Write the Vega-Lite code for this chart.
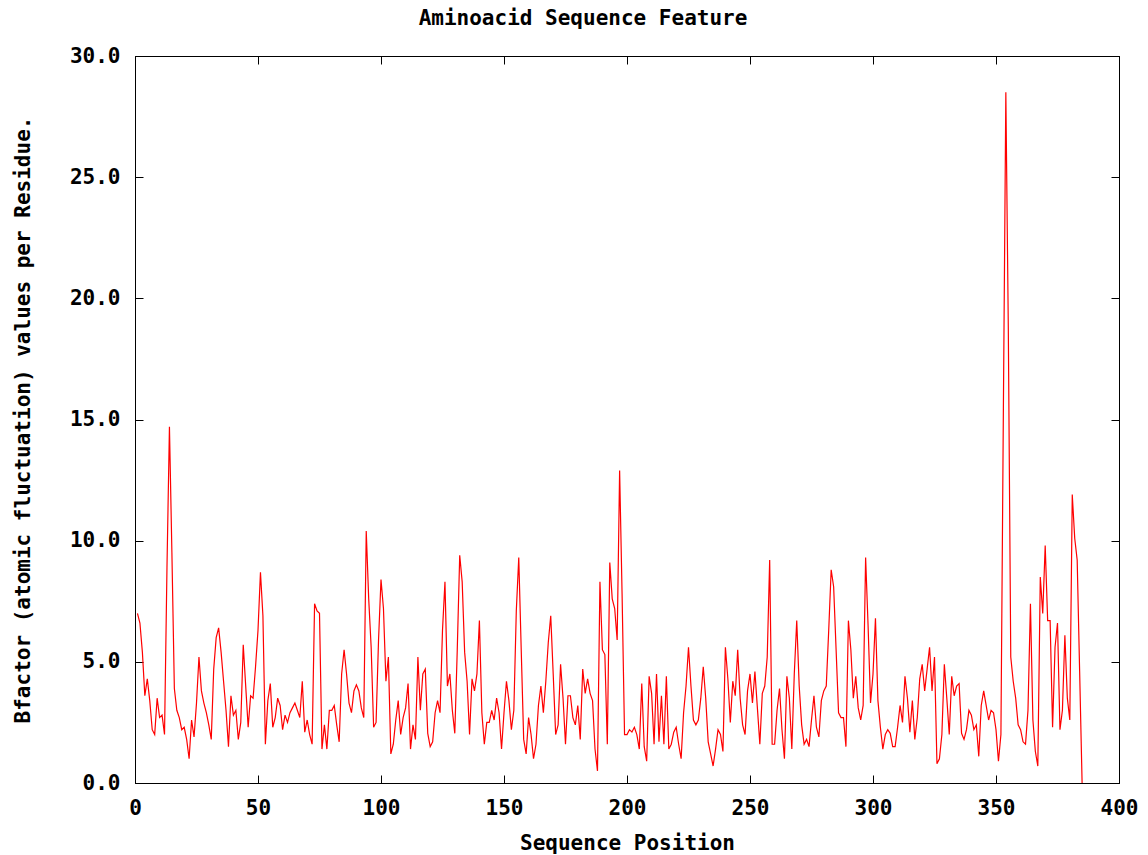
{
"$schema": "https://vega.github.io/schema/vega-lite/v6.json",
"width": 984, "height": 727,
"autosize": {"type": "none"},
"padding": {"left": 135, "top": 56, "right": 29, "bottom": 72},
"background": "white",
"title": {"text": "Aminoacid Sequence Feature", "font": "DejaVu Sans Mono", "fontSize": 21, "fontWeight": "bold", "color": "black", "offset": 6, "baseline": "alphabetic", "dx": -44, "dy": 7},
"config": {
  "view": {"stroke": "black", "strokeWidth": 1},
  "axis": {"labelFont": "DejaVu Sans Mono", "labelFontSize": 21, "labelFontWeight": "bold", "labelColor": "black", "titleFont": "DejaVu Sans Mono", "titleFontSize": 21, "titleFontWeight": "bold", "titleColor": "black", "tickColor": "black", "domainColor": "black", "grid": false, "tickSize": -8, "tickWidth": 1, "labelFlush": false, "labelOverlap": false}
},
"data": {"values": [
{"pos":1,"b":7.0},{"pos":2,"b":6.6},{"pos":3,"b":5.4},{"pos":4,"b":3.6},{"pos":5,"b":4.3},{"pos":6,"b":3.4},{"pos":7,"b":2.2},{"pos":8,"b":2.0},{"pos":9,"b":3.5},{"pos":10,"b":2.7},
{"pos":11,"b":2.8},{"pos":12,"b":2.0},{"pos":13,"b":8.9},{"pos":14,"b":14.7},{"pos":15,"b":9.5},{"pos":16,"b":3.9},{"pos":17,"b":3.0},{"pos":18,"b":2.7},{"pos":19,"b":2.2},{"pos":20,"b":2.3},
{"pos":21,"b":1.8},{"pos":22,"b":1.0},{"pos":23,"b":2.6},{"pos":24,"b":1.9},{"pos":25,"b":3.3},{"pos":26,"b":5.2},{"pos":27,"b":3.8},{"pos":28,"b":3.3},{"pos":29,"b":2.9},{"pos":30,"b":2.4},
{"pos":31,"b":1.8},{"pos":32,"b":4.7},{"pos":33,"b":6.0},{"pos":34,"b":6.4},{"pos":35,"b":5.4},{"pos":36,"b":4.2},{"pos":37,"b":3.0},{"pos":38,"b":1.5},{"pos":39,"b":3.6},{"pos":40,"b":2.8},
{"pos":41,"b":3.0},{"pos":42,"b":1.8},{"pos":43,"b":2.5},{"pos":44,"b":5.7},{"pos":45,"b":4.0},{"pos":46,"b":2.3},{"pos":47,"b":3.6},{"pos":48,"b":3.5},{"pos":49,"b":4.8},{"pos":50,"b":6.3},
{"pos":51,"b":8.7},{"pos":52,"b":6.9},{"pos":53,"b":1.6},{"pos":54,"b":3.4},{"pos":55,"b":4.1},{"pos":56,"b":2.3},{"pos":57,"b":2.7},{"pos":58,"b":3.5},{"pos":59,"b":3.2},{"pos":60,"b":2.2},
{"pos":61,"b":2.8},{"pos":62,"b":2.5},{"pos":63,"b":2.9},{"pos":64,"b":3.1},{"pos":65,"b":3.3},{"pos":66,"b":3.0},{"pos":67,"b":2.7},{"pos":68,"b":4.2},{"pos":69,"b":2.1},{"pos":70,"b":2.6},
{"pos":71,"b":2.0},{"pos":72,"b":1.6},{"pos":73,"b":7.4},{"pos":74,"b":7.1},{"pos":75,"b":7.0},{"pos":76,"b":1.4},{"pos":77,"b":2.4},{"pos":78,"b":1.4},{"pos":79,"b":3.0},{"pos":80,"b":3.0},
{"pos":81,"b":3.2},{"pos":82,"b":2.4},{"pos":83,"b":1.7},{"pos":84,"b":4.5},{"pos":85,"b":5.5},{"pos":86,"b":4.5},{"pos":87,"b":3.3},{"pos":88,"b":2.9},{"pos":89,"b":3.8},{"pos":90,"b":4.05},
{"pos":91,"b":3.8},{"pos":92,"b":3.1},{"pos":93,"b":2.7},{"pos":94,"b":10.4},{"pos":95,"b":7.6},{"pos":96,"b":5.6},{"pos":97,"b":2.3},{"pos":98,"b":2.5},{"pos":99,"b":5.9},{"pos":100,"b":8.4},
{"pos":101,"b":7.2},{"pos":102,"b":4.2},{"pos":103,"b":5.2},{"pos":104,"b":1.2},{"pos":105,"b":1.6},{"pos":106,"b":2.6},{"pos":107,"b":3.4},{"pos":108,"b":2.0},{"pos":109,"b":2.7},{"pos":110,"b":3.1},
{"pos":111,"b":4.1},{"pos":112,"b":1.4},{"pos":113,"b":2.4},{"pos":114,"b":1.8},{"pos":115,"b":5.2},{"pos":116,"b":3.0},{"pos":117,"b":4.5},{"pos":118,"b":4.7},{"pos":119,"b":2.05},{"pos":120,"b":1.5},
{"pos":121,"b":1.7},{"pos":122,"b":2.9},{"pos":123,"b":3.4},{"pos":124,"b":2.9},{"pos":125,"b":6.3},{"pos":126,"b":8.3},{"pos":127,"b":4.0},{"pos":128,"b":4.5},{"pos":129,"b":3.0},{"pos":130,"b":2.05},
{"pos":131,"b":5.5},{"pos":132,"b":9.4},{"pos":133,"b":8.3},{"pos":134,"b":5.4},{"pos":135,"b":4.2},{"pos":136,"b":2.0},{"pos":137,"b":4.3},{"pos":138,"b":3.8},{"pos":139,"b":4.5},{"pos":140,"b":6.7},
{"pos":141,"b":2.9},{"pos":142,"b":1.6},{"pos":143,"b":2.5},{"pos":144,"b":2.5},{"pos":145,"b":3.0},{"pos":146,"b":2.6},{"pos":147,"b":3.5},{"pos":148,"b":2.9},{"pos":149,"b":1.4},{"pos":150,"b":2.9},
{"pos":151,"b":4.2},{"pos":152,"b":3.4},{"pos":153,"b":2.2},{"pos":154,"b":3.0},{"pos":155,"b":7.1},{"pos":156,"b":9.3},{"pos":157,"b":5.5},{"pos":158,"b":1.8},{"pos":159,"b":1.2},{"pos":160,"b":2.7},
{"pos":161,"b":2.0},{"pos":162,"b":1.0},{"pos":163,"b":1.6},{"pos":164,"b":3.2},{"pos":165,"b":4.0},{"pos":166,"b":2.9},{"pos":167,"b":4.2},{"pos":168,"b":5.8},{"pos":169,"b":6.9},{"pos":170,"b":4.5},
{"pos":171,"b":2.0},{"pos":172,"b":2.4},{"pos":173,"b":4.9},{"pos":174,"b":3.5},{"pos":175,"b":1.6},{"pos":176,"b":3.6},{"pos":177,"b":3.6},{"pos":178,"b":2.7},{"pos":179,"b":2.4},{"pos":180,"b":3.2},
{"pos":181,"b":1.8},{"pos":182,"b":4.7},{"pos":183,"b":3.7},{"pos":184,"b":4.3},{"pos":185,"b":3.7},{"pos":186,"b":3.4},{"pos":187,"b":1.4},{"pos":188,"b":0.5},{"pos":189,"b":8.3},{"pos":190,"b":5.5},
{"pos":191,"b":5.3},{"pos":192,"b":1.6},{"pos":193,"b":9.1},{"pos":194,"b":7.6},{"pos":195,"b":7.2},{"pos":196,"b":5.9},{"pos":197,"b":12.9},{"pos":198,"b":7.8},{"pos":199,"b":2.0},{"pos":200,"b":2.0},
{"pos":201,"b":2.2},{"pos":202,"b":2.1},{"pos":203,"b":2.3},{"pos":204,"b":2.0},{"pos":205,"b":1.4},{"pos":206,"b":4.1},{"pos":207,"b":1.5},{"pos":208,"b":0.9},{"pos":209,"b":4.4},{"pos":210,"b":3.7},
{"pos":211,"b":1.6},{"pos":212,"b":4.5},{"pos":213,"b":1.7},{"pos":214,"b":3.6},{"pos":215,"b":1.6},{"pos":216,"b":4.4},{"pos":217,"b":1.4},{"pos":218,"b":1.6},{"pos":219,"b":2.1},{"pos":220,"b":2.3},
{"pos":221,"b":1.6},{"pos":222,"b":1.0},{"pos":223,"b":2.9},{"pos":224,"b":4.0},{"pos":225,"b":5.6},{"pos":226,"b":4.0},{"pos":227,"b":2.6},{"pos":228,"b":2.4},{"pos":229,"b":2.6},{"pos":230,"b":3.5},
{"pos":231,"b":4.8},{"pos":232,"b":3.5},{"pos":233,"b":1.7},{"pos":234,"b":1.2},{"pos":235,"b":0.7},{"pos":236,"b":1.4},{"pos":237,"b":2.2},{"pos":238,"b":2.0},{"pos":239,"b":1.3},{"pos":240,"b":5.6},
{"pos":241,"b":4.3},{"pos":242,"b":2.5},{"pos":243,"b":4.2},{"pos":244,"b":3.6},{"pos":245,"b":5.5},{"pos":246,"b":3.5},{"pos":247,"b":2.4},{"pos":248,"b":2.0},{"pos":249,"b":3.8},{"pos":250,"b":4.5},
{"pos":251,"b":3.3},{"pos":252,"b":4.6},{"pos":253,"b":3.1},{"pos":254,"b":1.6},{"pos":255,"b":3.7},{"pos":256,"b":4.0},{"pos":257,"b":5.2},{"pos":258,"b":9.2},{"pos":259,"b":1.6},{"pos":260,"b":1.6},
{"pos":261,"b":3.0},{"pos":262,"b":3.9},{"pos":263,"b":2.2},{"pos":264,"b":1.0},{"pos":265,"b":4.4},{"pos":266,"b":3.5},{"pos":267,"b":1.4},{"pos":268,"b":4.5},{"pos":269,"b":6.7},{"pos":270,"b":4.0},
{"pos":271,"b":2.4},{"pos":272,"b":1.6},{"pos":273,"b":1.8},{"pos":274,"b":1.5},{"pos":275,"b":2.6},{"pos":276,"b":3.6},{"pos":277,"b":2.3},{"pos":278,"b":1.9},{"pos":279,"b":3.4},{"pos":280,"b":3.8},
{"pos":281,"b":4.0},{"pos":282,"b":6.3},{"pos":283,"b":8.8},{"pos":284,"b":8.1},{"pos":285,"b":5.5},{"pos":286,"b":2.9},{"pos":287,"b":2.7},{"pos":288,"b":2.7},{"pos":289,"b":1.5},{"pos":290,"b":6.7},
{"pos":291,"b":5.5},{"pos":292,"b":3.5},{"pos":293,"b":4.4},{"pos":294,"b":3.1},{"pos":295,"b":2.6},{"pos":296,"b":3.2},{"pos":297,"b":9.3},{"pos":298,"b":6.5},{"pos":299,"b":3.3},{"pos":300,"b":4.5},
{"pos":301,"b":6.8},{"pos":302,"b":3.4},{"pos":303,"b":2.3},{"pos":304,"b":1.4},{"pos":305,"b":2.0},{"pos":306,"b":2.2},{"pos":307,"b":2.05},{"pos":308,"b":1.5},{"pos":309,"b":1.5},{"pos":310,"b":2.3},
{"pos":311,"b":3.2},{"pos":312,"b":2.5},{"pos":313,"b":4.4},{"pos":314,"b":3.5},{"pos":315,"b":2.1},{"pos":316,"b":3.4},{"pos":317,"b":1.8},{"pos":318,"b":2.7},{"pos":319,"b":4.3},{"pos":320,"b":4.9},
{"pos":321,"b":3.8},{"pos":322,"b":4.7},{"pos":323,"b":5.6},{"pos":324,"b":3.8},{"pos":325,"b":5.2},{"pos":326,"b":0.8},{"pos":327,"b":1.0},{"pos":328,"b":2.0},{"pos":329,"b":4.9},{"pos":330,"b":3.5},
{"pos":331,"b":2.0},{"pos":332,"b":4.4},{"pos":333,"b":3.6},{"pos":334,"b":4.0},{"pos":335,"b":4.1},{"pos":336,"b":2.05},{"pos":337,"b":1.8},{"pos":338,"b":2.2},{"pos":339,"b":3.0},{"pos":340,"b":2.8},
{"pos":341,"b":2.2},{"pos":342,"b":2.4},{"pos":343,"b":1.1},{"pos":344,"b":3.2},{"pos":345,"b":3.8},{"pos":346,"b":3.2},{"pos":347,"b":2.6},{"pos":348,"b":3.0},{"pos":349,"b":2.9},{"pos":350,"b":2.2},
{"pos":351,"b":0.9},{"pos":352,"b":2.0},{"pos":353,"b":15.4},{"pos":354,"b":28.5},{"pos":355,"b":18.8},{"pos":356,"b":5.2},{"pos":357,"b":4.2},{"pos":358,"b":3.5},{"pos":359,"b":2.4},{"pos":360,"b":2.2},
{"pos":361,"b":1.7},{"pos":362,"b":1.6},{"pos":363,"b":3.0},{"pos":364,"b":7.4},{"pos":365,"b":2.6},{"pos":366,"b":1.3},{"pos":367,"b":0.7},{"pos":368,"b":8.5},{"pos":369,"b":7.0},{"pos":370,"b":9.8},
{"pos":371,"b":6.7},{"pos":372,"b":6.7},{"pos":373,"b":2.3},{"pos":374,"b":5.6},{"pos":375,"b":6.6},{"pos":376,"b":2.2},{"pos":377,"b":3.0},{"pos":378,"b":6.1},{"pos":379,"b":3.5},{"pos":380,"b":2.6},
{"pos":381,"b":11.9},{"pos":382,"b":10.1},{"pos":383,"b":9.2},{"pos":384,"b":4.6},{"pos":385,"b":0.0}
]},
"layer": [
  {
    "mark": {"type": "line", "color": "#ff0000", "strokeWidth": 1.2, "interpolate": "linear"},
    "encoding": {
      "x": {"field": "pos", "type": "quantitative", "scale": {"domain": [0, 400], "nice": false, "zero": false},
            "axis": {"orient": "bottom", "values": [0,50,100,150,200,250,300,350,400], "title": "Sequence Position", "labelPadding": 22, "titlePadding": 14}},
      "y": {"field": "b", "type": "quantitative", "scale": {"domain": [0, 30], "nice": false},
            "axis": {"orient": "left", "values": [0,5,10,15,20,25,30], "format": ".1f", "title": "Bfactor (atomic fluctuation) values per Residue.", "labelPadding": 23, "titlePadding": 36}}
    }
  },
  {
    "mark": {"type": "line", "opacity": 0},
    "encoding": {
      "x": {"field": "pos", "type": "quantitative", "scale": {"domain": [0, 400], "nice": false, "zero": false}, "axis": {"orient": "top", "values": [0,50,100,150,200,250,300,350,400], "labels": false, "title": null}},
      "y": {"field": "b", "type": "quantitative", "scale": {"domain": [0, 30], "nice": false}, "axis": {"orient": "right", "values": [0,5,10,15,20,25,30], "labels": false, "title": null}}
    }
  }
],
"resolve": {"axis": {"x": "independent", "y": "independent"}}
}
